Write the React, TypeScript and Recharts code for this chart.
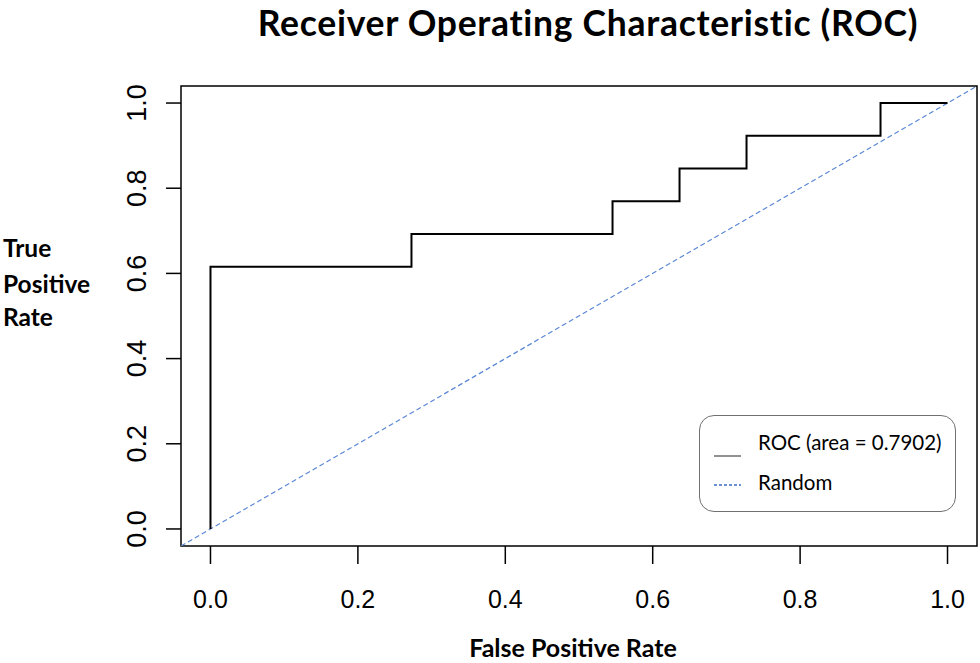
import React from 'react';
import { LineChart, Line, XAxis, YAxis, ReferenceArea, Legend, Customized } from 'recharts';

// ROC curve points (step curve corners, drawn with stepAfter)
const fprValues = [0, 0, 0.2727, 0.5455, 0.6364, 0.7273, 0.9091, 1.0];
const tprValues = [0, 0.6154, 0.6923, 0.7692, 0.8462, 0.9231, 1.0, 1.0];
// Random classifier diagonal (abline y = x across the full plot region)
const randomX = [-0.04, 1.04];
const randomY = [-0.04, 1.04];
const axisTicks = [0, 0.2, 0.4, 0.6, 0.8, 1.0];
const axisDomain = [-0.04, 1.04];

const rocData = fprValues.map((f, i) => ({ fpr: f, tpr: tprValues[i] }));
const randomData = randomX.map((f, i) => ({ fpr: f, rnd: randomY[i] }));

const TITLE = 'Receiver Operating Characteristic (ROC)';
const X_LABEL = 'False Positive Rate';
const Y_LABEL_LINES = ['True', 'Positive', 'Rate'];

const seriesStyles = [
  { key: 'tpr', name: 'ROC (area = 0.7902)', color: '#000000', legendColor: '#555555', width: 2, dash: undefined, legendDash: undefined },
  { key: 'rnd', name: 'Random', color: '#5b87d6', legendColor: '#3d6cc8', width: 1.2, dash: '5 3', legendDash: '3 2' },
];

const TICK_FONT = '"Liberation Sans", Arial, Helvetica, sans-serif';
const LABEL_FONT = 'Lato, "Open Sans", sans-serif';

const XTick = (props: any) => {
  const { x, y, payload } = props;
  return (
    <text x={x} y={y + 44} textAnchor="middle" fontFamily={TICK_FONT} fontSize={25} fill="#000">
      {Number(payload.value).toFixed(1)}
    </text>
  );
};

const YTick = (props: any) => {
  const { x, y, payload } = props;
  const cx = x - 29.5;
  return (
    <text
      x={cx}
      y={y}
      dy="0.36em"
      textAnchor="middle"
      transform={`rotate(-90, ${cx}, ${y})`}
      fontFamily={TICK_FONT}
      fontSize={27}
      fill="#000"
    >
      {Number(payload.value).toFixed(1)}
    </text>
  );
};

const Texts = () => (
  <g>
    <text x={588} y={35.5} textAnchor="middle" fontFamily={LABEL_FONT} fontWeight={700} fontSize={35.5} letterSpacing={0.7} fill="#000">
      {TITLE}
    </text>
    <text x={573} y={657} textAnchor="middle" fontFamily={LABEL_FONT} fontWeight={700} fontSize={25} fill="#000">
      {X_LABEL}
    </text>
    {Y_LABEL_LINES.map((t, i) => (
      <text key={t} x={3} y={[257, 293, 326][i]} fontFamily={LABEL_FONT} fontWeight={700} fontSize={24.5} fill="#000">
        {t}
      </text>
    ))}
  </g>
);

const LegendBox = () => (
  <div
    style={{
      width: 257,
      height: 97,
      boxSizing: 'border-box',
      border: '1.3px solid #707070',
      borderRadius: 15,
      background: '#fff',
    }}
  >
    <svg width={255} height={95} style={{ display: 'block' }}>
      {seriesStyles.map((s, i) => {
        const lineY = [40, 69][i];
        const textY = [27, 67][i];
        return (
          <g key={s.key}>
            <line x1={14} x2={41} y1={lineY} y2={lineY} stroke={s.legendColor} strokeWidth={1.3} strokeDasharray={s.legendDash} />
            <text x={58} y={textY} dy="0.35em" fontFamily={LABEL_FONT} fontSize={20.5} fill="#000">
              {s.name}
            </text>
          </g>
        );
      })}
    </svg>
  </div>
);

export default function App() {
  return (
    <div style={{ position: 'absolute', left: 0, top: 0, width: 980, height: 663, background: '#fff' }}>
      <LineChart width={980} height={663} margin={{ top: 86, right: 3, bottom: 57, left: 101 }}>
        <XAxis
          type="number"
          dataKey="fpr"
          domain={axisDomain}
          ticks={axisTicks}
          axisLine={false}
          tickSize={18}
          tickMargin={0}
          tickLine={{ stroke: '#000', strokeWidth: 1.5 }}
          tick={<XTick />}
          height={60}
          allowDataOverflow
        />
        <YAxis
          type="number"
          domain={axisDomain}
          ticks={axisTicks}
          axisLine={false}
          tickSize={15}
          tickMargin={0}
          tickLine={{ stroke: '#000', strokeWidth: 1.5 }}
          tick={<YTick />}
          width={80}
          allowDataOverflow
        />
        <ReferenceArea
          x1={axisDomain[0]}
          x2={axisDomain[1]}
          y1={axisDomain[0]}
          y2={axisDomain[1]}
          fill="none"
          fillOpacity={0}
          stroke="#000"
          strokeWidth={1.5}
          ifOverflow="visible"
        />
        <Line
          data={randomData}
          dataKey="rnd"
          name={seriesStyles[1].name}
          type="linear"
          stroke={seriesStyles[1].color}
          strokeWidth={seriesStyles[1].width}
          strokeDasharray={seriesStyles[1].dash}
          dot={false}
          activeDot={false}
          isAnimationActive={false}
        />
        <Line
          data={rocData}
          dataKey="tpr"
          name={seriesStyles[0].name}
          type="stepAfter"
          stroke={seriesStyles[0].color}
          strokeWidth={seriesStyles[0].width}
          dot={false}
          activeDot={false}
          isAnimationActive={false}
        />
        <Legend
          layout="vertical"
          align="center"
          verticalAlign="middle"
          content={() => <LegendBox />}
          wrapperStyle={{ position: 'absolute', left: 699, top: 415, width: 257, height: 97 }}
        />
        <Customized component={<Texts />} />
      </LineChart>
    </div>
  );
}
